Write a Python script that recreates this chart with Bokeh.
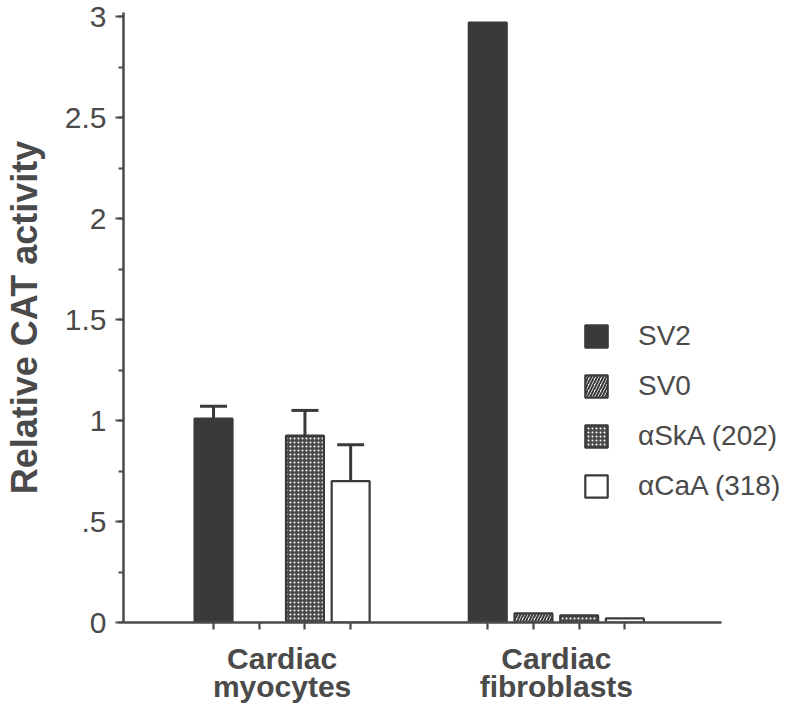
from bokeh.plotting import figure
from bokeh.models import (Range1d, FixedTicker, Legend, LegendItem, Whisker, TeeHead,
                          ColumnDataSource)
from bokeh.embed import file_html
from bokeh.resources import INLINE
import math

# ---- data ----
groups = ["Cardiac myocytes", "Cardiac fibroblasts"]
group_labels = ["Cardiac\nmyocytes", "Cardiac\nfibroblasts"]
series = ["SV2", "SV0", "\u03b1SkA (202)", "\u03b1CaA (318)"]
myocytes = [1.01, float("nan"), 0.925, 0.70]
fibroblasts = [2.97, 0.045, 0.035, 0.02]
myocytes_err_top = [1.07, float("nan"), 1.05, 0.88]
y_ticks = [0, 0.5, 1, 1.5, 2, 2.5, 3]
y_tick_labels = ["0", ".5", "1", "1.5", "2", "2.5", "3"]

TEXT = "#4a4a4a"
DARK = "#3a3a3a"
FONT = "Liberation Sans"

group_gap = 6  # bar slots between group starts
x_start, x_end, axis_end = -1.97, 12.58, 11.12
p = figure(frame_width=665, frame_height=610, output_backend="svg", toolbar_location=None,
           x_range=Range1d(x_start, x_end), y_range=Range1d(0, 3.02),
           min_border_left=116, min_border_right=0, min_border_top=12,
           min_border_bottom=0)
p.outline_line_color = None
p.grid.visible = False
p.background_fill_color = "white"

styles = [
    dict(fill_color=DARK, hatch_pattern=None),
    dict(fill_color="white", hatch_pattern="right_diagonal_line", hatch_color=DARK,
         hatch_scale=6, hatch_weight=2),
    dict(fill_color="#4a4a4a", hatch_pattern="dot", hatch_color="white",
         hatch_scale=4, hatch_weight=1.2),
    dict(fill_color="white", hatch_pattern=None),
]

items = []
for i, name in enumerate(series):
    xs = [gi * group_gap + i for gi in range(len(groups))]
    tops = [myocytes[i], fibroblasts[i]]
    src = ColumnDataSource(dict(x=xs, top=tops))
    st = {k: v for k, v in styles[i].items() if v is not None}
    r = p.vbar(x="x", top="top", bottom=0, width=0.83, source=src,
               line_color=DARK, line_width=2.2, **st)
    items.append(LegendItem(label=name, renderers=[r]))

# error bars (upper only)
ex, elo, ehi = [], [], []
for i in range(len(series)):
    if not math.isnan(myocytes_err_top[i]):
        ex.append(i)
        elo.append(myocytes[i])
        ehi.append(myocytes_err_top[i])
esrc = ColumnDataSource(dict(x=ex, lower=elo, upper=ehi))
w = Whisker(base="x", lower="lower", upper="upper", source=esrc, dimension="height",
            line_color=DARK, line_width=3, lower_head=None,
            upper_head=TeeHead(size=27, line_color=DARK, line_width=3))
p.add_layout(w)

# axes
centers = [gi * group_gap + (len(series) - 1) / 2 for gi in range(len(groups))]
bar_pos = [gi * group_gap + i for gi in range(len(groups)) for i in range(len(series))]
p.xaxis.bounds = (x_start, axis_end)
p.xaxis.ticker = FixedTicker(ticks=centers, minor_ticks=bar_pos)
p.xaxis.major_label_overrides = {c: lab for c, lab in zip(centers, group_labels)}
p.xaxis.major_tick_out = 0
p.xaxis.major_tick_in = 0
p.xaxis.minor_tick_out = 7
p.xaxis.minor_tick_in = 0
p.xaxis.major_label_text_font = FONT
p.xaxis.major_label_text_font_style = "bold"
p.xaxis.major_label_text_font_size = "30px"
p.xaxis.major_label_text_color = TEXT
p.xaxis.major_label_standoff = 12
p.xaxis.major_label_text_line_height = 0.85

minor_y = [k * 0.25 for k in range(13)]
p.yaxis.ticker = FixedTicker(ticks=y_ticks, minor_ticks=minor_y)
p.yaxis.major_label_overrides = {t: l for t, l in zip(y_ticks, y_tick_labels)}
p.yaxis.major_tick_out = 8
p.yaxis.major_tick_in = 0
p.yaxis.minor_tick_out = 5
p.yaxis.minor_tick_in = 0
p.yaxis.major_label_text_font = FONT
p.yaxis.major_label_text_font_size = "30px"
p.yaxis.major_label_text_color = TEXT
p.yaxis.major_label_standoff = 9
p.yaxis.axis_label = "Relative CAT activity"
p.yaxis.axis_label_text_font = FONT
p.yaxis.axis_label_text_font_style = "bold"
p.yaxis.axis_label_text_font_size = "36px"
p.yaxis.axis_label_text_color = TEXT
p.yaxis.axis_label_standoff = 17

for ax in (p.xaxis, p.yaxis):
    ax.axis_line_color = "#4a4a4a"
    ax.axis_line_width = 2.5
    ax.major_tick_line_color = "#4a4a4a"
    ax.major_tick_line_width = 2.2
    ax.minor_tick_line_color = "#4a4a4a"
    ax.minor_tick_line_width = 2.2

legend = Legend(items=items, location=(459, 120), orientation="vertical",
                glyph_width=28, glyph_height=28, label_height=28, spacing=18,
                label_standoff=28, padding=0, margin=0,
                border_line_alpha=0, background_fill_alpha=0,
                label_text_font=FONT, label_text_font_size="28px",
                label_text_color=TEXT)
p.add_layout(legend, "center")

open("out.html", "w").write(file_html(p, INLINE))
